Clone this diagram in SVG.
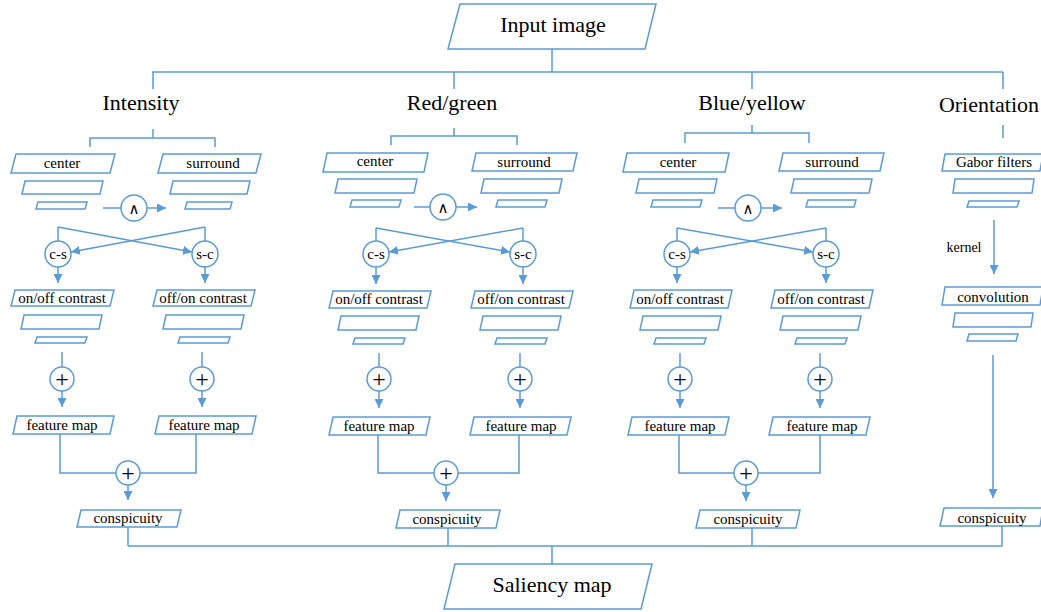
<svg xmlns="http://www.w3.org/2000/svg" width="1041" height="612" viewBox="0 0 1041 612">
<style>
.b{fill:#fff;stroke:#5B9BD5;stroke-width:1.5}
.c{fill:none;stroke:#5B9BD5;stroke-width:1.5}
.a{fill:none;stroke:#5B9BD5;stroke-width:1.5;marker-end:url(#ah)}
text{font-family:'Liberation Serif','DejaVu Serif',serif;fill:#000;text-anchor:middle}
.t{font-size:15px}
.h{font-size:22px}
.p{font-size:24px}
.l{font-size:15px}
</style>
<defs>
<marker id="ah" viewBox="0 0 10 10" refX="10" refY="5" markerWidth="9" markerHeight="9" markerUnits="userSpaceOnUse" orient="auto"><path d="M0,0 L10,5 L0,10 z" fill="#5B9BD5"/></marker>
</defs>
<rect width="1041" height="612" fill="#fff"/>
<g id="connectors">
<path class="c" d="M552,49 V72 M152,72 H1003 M153,72 V89 M454,72 V89 M752,72 V89 M1003,72 V89"/>
<path class="c" d="M153,129 V138 M90,147 V138 H215 V147"/>
<path class="c" d="M454,128 V136 M391,145 V136 H517 V145"/>
<path class="c" d="M752,125 V133 M685,143 V133 H809 V143"/>
<path class="c" d="M1003,125 V138"/>
<path class="c" d="M103,208 H121"/><path class="a" d="M147,208 H166"/>
<path class="c" d="M58,241 V227"/><path class="a" d="M58,227 L192,252"/>
<path class="c" d="M205,241 V227"/><path class="a" d="M205,227 L71,252"/>
<path class="a" d="M58,267 V283"/><path class="a" d="M205,267 V283"/>
<path class="c" d="M62,352 V367"/><path class="a" d="M62,391 V407"/>
<path class="c" d="M202,352 V367"/><path class="a" d="M202,391 V407"/>
<path class="c" d="M60,434 V473 H116 M196,434 V473 H140"/><path class="a" d="M128,485 V500"/>
<path class="c" d="M414,207 H430"/><path class="a" d="M456,207 H477"/>
<path class="c" d="M376,241 V228"/><path class="a" d="M376,228 L510,252"/>
<path class="c" d="M523,241 V228"/><path class="a" d="M523,228 L389,252"/>
<path class="a" d="M376,267 V284"/><path class="a" d="M523,267 V284"/>
<path class="c" d="M379,353 V367"/><path class="a" d="M379,391 V408"/>
<path class="c" d="M520,353 V367"/><path class="a" d="M520,391 V408"/>
<path class="c" d="M378,435 V473 H434 M519,435 V473 H458"/><path class="a" d="M446,485 V501"/>
<path class="c" d="M718,208 H735"/><path class="a" d="M761,208 H782"/>
<path class="c" d="M677,241 V228"/><path class="a" d="M677,228 L813,252"/>
<path class="c" d="M826,241 V228"/><path class="a" d="M826,228 L690,252"/>
<path class="a" d="M677,267 V283"/><path class="a" d="M826,267 V283"/>
<path class="c" d="M680,353 V367"/><path class="a" d="M680,391 V408"/>
<path class="c" d="M820,353 V367"/><path class="a" d="M820,391 V408"/>
<path class="c" d="M679,435 V473 H734 M820,435 V473 H758"/><path class="a" d="M746,485 V501"/>
<path class="a" d="M994,220 V274"/>
<path class="a" d="M993,355 V498"/>
<path class="c" d="M128,527 V546 M448,528 V546 M752,528 V546 M1002,526 V546 M128,546 H1002 M552,546 V564"/>
</g>
<g id="input"><polygon class="b" points="460,4 656,4 645,49 448,49"/><text class="h" x="553" y="32">Input image</text></g>
<g id="saliency"><polygon class="b" points="455,564 652,564 641,609 444,609"/><text class="h" x="552" y="592">Saliency map</text></g>
<g id="intensity">
<text class="h" x="141" y="110">Intensity</text>
<polygon class="b" points="16,154 115,154 110,173 11,173"/><text class="t" x="62" y="168">center</text>
<polygon class="b" points="25,181 103,181 100,194 22,194"/>
<polygon class="b" points="38,202 87,202 85,209 36,209"/>
<polygon class="b" points="163,154 261,154 256,173 158,173"/><text class="t" x="213" y="168">surround</text>
<polygon class="b" points="173,181 250,181 247,194 170,194"/>
<polygon class="b" points="187,202 232,202 230,209 185,209"/>
<circle class="b" cx="134" cy="208" r="13"/><text class="l" x="134" y="214">∧</text>
<circle class="b" cx="58" cy="254" r="13"/><text class="t" x="58" y="259">c-s</text>
<circle class="b" cx="205" cy="254" r="13"/><text class="t" x="205" y="259">s-c</text>
<polygon class="b" points="15,290 114,290 110,306 11,306"/><text class="t" x="62" y="303">on/off contrast</text>
<polygon class="b" points="24,315 102,315 99,329 21,329"/>
<polygon class="b" points="37,337 87,337 85,343 35,343"/>
<polygon class="b" points="157,290 255,290 251,306 153,306"/><text class="t" x="203" y="303">off/on contrast</text>
<polygon class="b" points="166,315 244,315 241,329 163,329"/>
<polygon class="b" points="180,337 230,337 228,343 178,343"/>
<circle class="b" cx="62" cy="379" r="12"/><text class="p" x="62" y="387">+</text>
<circle class="b" cx="202" cy="379" r="12"/><text class="p" x="202" y="387">+</text>
<polygon class="b" points="17,416 114,416 110,434 13,434"/><text class="t" x="62" y="430">feature map</text>
<polygon class="b" points="159,416 256,416 252,434 155,434"/><text class="t" x="204" y="430">feature map</text>
<circle class="b" cx="128" cy="473" r="12"/><text class="p" x="128" y="481">+</text>
<polygon class="b" points="81,510 181,510 177,527 77,527"/><text class="t" x="128" y="523">conspicuity</text>
</g>
<g id="redgreen">
<text class="h" x="452" y="110">Red/green</text>
<polygon class="b" points="327,153 428,153 424,172 323,172"/><text class="t" x="375" y="166">center</text>
<polygon class="b" points="338,179 417,179 414,193 335,193"/>
<polygon class="b" points="352,200 401,200 399,207 350,207"/>
<polygon class="b" points="476,153 577,153 573,171 472,171"/><text class="t" x="524" y="167">surround</text>
<polygon class="b" points="484,179 562,179 559,193 481,193"/>
<polygon class="b" points="498,200 547,200 545,207 496,207"/>
<circle class="b" cx="443" cy="207" r="13"/><text class="l" x="443" y="213">∧</text>
<circle class="b" cx="376" cy="254" r="13"/><text class="t" x="376" y="259">c-s</text>
<circle class="b" cx="523" cy="254" r="13"/><text class="t" x="523" y="259">s-c</text>
<polygon class="b" points="333,291 431,291 427,308 329,308"/><text class="t" x="379" y="304">on/off contrast</text>
<polygon class="b" points="341,316 419,316 416,330 338,330"/>
<polygon class="b" points="355,338 405,338 403,344 353,344"/>
<polygon class="b" points="475,291 573,291 569,308 471,308"/><text class="t" x="521" y="304">off/on contrast</text>
<polygon class="b" points="483,316 561,316 558,330 480,330"/>
<polygon class="b" points="497,338 547,338 545,344 495,344"/>
<circle class="b" cx="379" cy="379" r="12"/><text class="p" x="379" y="387">+</text>
<circle class="b" cx="520" cy="379" r="12"/><text class="p" x="520" y="387">+</text>
<polygon class="b" points="333,417 430,417 426,435 329,435"/><text class="t" x="379" y="431">feature map</text>
<polygon class="b" points="474,417 571,417 567,435 470,435"/><text class="t" x="521" y="431">feature map</text>
<circle class="b" cx="446" cy="473" r="12"/><text class="p" x="446" y="481">+</text>
<polygon class="b" points="400,510 500,510 496,528 396,528"/><text class="t" x="447" y="524">conspicuity</text>
</g>
<g id="blueyellow">
<text class="h" x="752" y="110">Blue/yellow</text>
<polygon class="b" points="627,153 729,153 725,172 623,172"/><text class="t" x="678" y="167">center</text>
<polygon class="b" points="639,179 717,179 714,193 636,193"/>
<polygon class="b" points="653,200 702,200 700,207 651,207"/>
<polygon class="b" points="783,153 884,153 880,171 779,171"/><text class="t" x="832" y="167">surround</text>
<polygon class="b" points="794,179 872,179 869,193 791,193"/>
<polygon class="b" points="808,200 856,200 854,207 806,207"/>
<circle class="b" cx="748" cy="208" r="13"/><text class="l" x="748" y="214">∧</text>
<circle class="b" cx="677" cy="254" r="13"/><text class="t" x="677" y="259">c-s</text>
<circle class="b" cx="826" cy="254" r="13"/><text class="t" x="826" y="259">s-c</text>
<polygon class="b" points="634,290 732,290 728,308 630,308"/><text class="t" x="680" y="304">on/off contrast</text>
<polygon class="b" points="643,316 721,316 718,330 640,330"/>
<polygon class="b" points="656,338 706,338 704,344 654,344"/>
<polygon class="b" points="775,290 873,290 869,308 771,308"/><text class="t" x="821" y="304">off/on contrast</text>
<polygon class="b" points="783,316 861,316 858,330 780,330"/>
<polygon class="b" points="797,338 847,338 845,344 795,344"/>
<circle class="b" cx="680" cy="379" r="12"/><text class="p" x="680" y="387">+</text>
<circle class="b" cx="820" cy="379" r="12"/><text class="p" x="820" y="387">+</text>
<polygon class="b" points="632,417 729,417 725,435 628,435"/><text class="t" x="680" y="431">feature map</text>
<polygon class="b" points="773,417 870,417 866,435 769,435"/><text class="t" x="822" y="431">feature map</text>
<circle class="b" cx="746" cy="473" r="12"/><text class="p" x="746" y="481">+</text>
<polygon class="b" points="700,510 800,510 796,528 696,528"/><text class="t" x="748" y="524">conspicuity</text>
</g>
<g id="orientation">
<text class="h" x="989" y="112">Orientation</text>
<polygon class="b" points="945,154 1043,154 1040,171 942,171"/><text class="t" x="994" y="167">Gabor filters</text>
<polygon class="b" points="955,179 1034,179 1032,193 953,193"/>
<polygon class="b" points="969,201 1019,201 1017,207 967,207"/>
<text class="t" x="964" y="252" style="font-size:14px">kernel</text>
<polygon class="b" points="945,287 1043,287 1040,305 942,305"/><text class="t" x="993" y="302">convolution</text>
<polygon class="b" points="955,313 1033,313 1031,327 953,327"/>
<polygon class="b" points="969,334 1018,334 1016,341 967,341"/>
<polygon class="b" points="944,508 1043,508 1040,526 940,526"/><text class="t" x="992" y="523">conspicuity</text>
</g>
</svg>
